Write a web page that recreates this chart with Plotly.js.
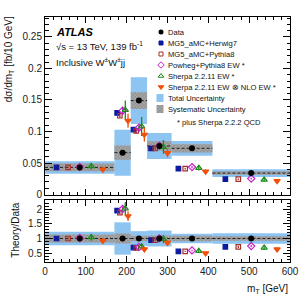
<!DOCTYPE html>
<html><head><meta charset="utf-8">
<script src="https://cdn.plot.ly/plotly-3.0.1.min.js"></script>
<style>html,body{margin:0;padding:0;background:#fff}#c{width:307px;height:307px}</style>
</head><body><div id="c"></div>
<script>
// ---- data ----
const binLo = [0, 170, 210, 250, 310, 410];
const binHi = [170, 210, 250, 310, 410, 600];
const dataVal = [0.043, 0.0664, 0.149, 0.077, 0.0733, 0.034];
const totRel = [0.23, 0.55, 0.25, 0.27, 0.16, 0.18];
const sysRel = [0.14, 0.17, 0.09, 0.10, 0.09, 0.08];

const mgHerwig = [0.043, 0.1295, 0.103, 0.073, 0.041, 0.0244];
const mgHerwigErr = [0.0015, 0.004, 0.004, 0.003, 0.0015, 0.0012];
const mgPythia = [0.043, 0.125, 0.101, 0.073, 0.041, 0.0243];
const mgPythiaErr = [0.0015, 0.004, 0.004, 0.003, 0.0015, 0.0012];
const powheg = [0.0438, 0.133, 0.106, 0.0775, 0.0435, 0.0252];
const powhegErr = [0.0018, 0.005, 0.004, 0.003, 0.0018, 0.0013];
const sherpa = [0.0447, 0.134, 0.108, 0.0755, 0.042, 0.0233];
const sherpaErr = [0.005, 0.015, 0.015, 0.011, 0.004, 0.0025];
const sherpaNLO = [0.0398, 0.117, 0.095, 0.066, 0.0365, 0.0215];
const sherpaNLOErr = [0.004, 0.011, 0.011, 0.007, 0.003, 0.002];

const topTickVals = [0, 0.05, 0.1, 0.15, 0.2, 0.25];
const topTickText = ['0', '0.05', '0.1', '0.15', '0.2', '0.25'];
const ratioTickVals = [0.5, 1, 1.5, 2];
const ratioTickText = ['0.5', '1', '1.5', '2'];

const legendLabels = ['Data', 'MG5_aMC+Herwig7', 'MG5_aMC+Pythia8', 'Powheg+Pythia8 EW *',
  'Sherpa 2.2.11 EW *', 'Sherpa 2.2.11 EW \u2297 NLO EW *', 'Total Uncertainty', 'Systematic Uncertainty'];

// ---- styles ----
const FONT = 'Liberation Sans, Arial, Helvetica, sans-serif';
const theory = [
  {v: mgHerwig, e: mgHerwigErr, color: '#0b1a9e', symbol: 'square', size: 4.5},
  {v: mgPythia, e: mgPythiaErr, color: '#a3302d', symbol: 'square-open', size: 4.5},
  {v: powheg, e: powhegErr, color: '#c81ec8', symbol: 'diamond-open', size: 5.5},
  {v: sherpa, e: sherpaErr, color: '#1a8c1a', symbol: 'triangle-up-open', size: 5.5},
  {v: sherpaNLO, e: sherpaNLOErr, color: '#f0500a', symbol: 'triangle-down', size: 5.5}
];
const TOT = '#8dc4f2';
const SYS = '#9a9a9a';
const sysPattern = {shape: 'x', fgcolor: '#6a6a6a', bgcolor: '#a9a9a9', size: 2.5, solidity: 0.25};

const centers = binLo.map((l, i) => (l + binHi[i]) / 2);
const widths = binLo.map((l, i) => binHi[i] - l);

const traces = [];
function panel(xa, ya, vals, isRatio) {
  traces.push({type: 'bar', xaxis: xa, yaxis: ya, x: centers, width: widths,
    base: vals.map((v, i) => v - v * totRel[i]), y: vals.map((v, i) => 2 * v * totRel[i]),
    marker: {color: TOT, line: {width: 0}}, hoverinfo: 'skip'});
  traces.push({type: 'bar', xaxis: xa, yaxis: ya, x: centers, width: widths,
    base: vals.map((v, i) => v - v * sysRel[i]), y: vals.map((v, i) => 2 * v * sysRel[i]),
    marker: {color: SYS, pattern: sysPattern, line: {width: 0}}, hoverinfo: 'skip'});
  const lx = [], ly = [];
  binLo.forEach((l, i) => { lx.push(l, binHi[i], null); ly.push(vals[i], vals[i], null); });
  traces.push({type: 'scatter', mode: 'lines', xaxis: xa, yaxis: ya, x: lx, y: ly,
    line: {color: '#222', width: 1, dash: '3px,2px'}, hoverinfo: 'skip'});
  theory.forEach((t, k) => {
    const xs = binLo.map((l, i) => l + widths[i] * (k + 1) / 6);
    const ys = t.v.map((v, i) => isRatio ? v / dataVal[i] : v);
    const es = t.e.map((e, i) => isRatio ? e / dataVal[i] : e);
    traces.push({type: 'scatter', mode: 'markers', xaxis: xa, yaxis: ya, x: xs, y: ys,
      marker: {color: t.color, symbol: t.symbol, size: t.size, line: {color: t.color, width: 1.2}},
      error_y: {type: 'data', array: es, color: t.color, thickness: 1.3, width: 0}});
  });
  traces.push({type: 'scatter', mode: 'markers', xaxis: xa, yaxis: ya, x: centers, y: vals,
    marker: {color: 'black', size: 6}});
}
panel('x', 'y', dataVal, false);
panel('x2', 'y2', dataVal.map(() => 1), true);

// ---- legend (overlay axes in pixel units) ----
const legX = 161, legTextX = 166, legY0 = 32, legDY = 11;
const rowY = legendLabels.map((_, i) => legY0 + i * legDY);
traces.push({type: 'scatter', mode: 'markers', xaxis: 'x3', yaxis: 'y3', x: [legX], y: [rowY[0]],
  marker: {color: 'black', size: 5}, hoverinfo: 'skip'});
theory.forEach((t, k) => {
  traces.push({type: 'scatter', mode: 'markers', xaxis: 'x3', yaxis: 'y3', x: [legX], y: [rowY[k + 1]],
    marker: {color: t.color, symbol: t.symbol, size: t.size - 0.5, line: {color: t.color, width: 1}}, hoverinfo: 'skip'});
});
traces.push({type: 'bar', xaxis: 'x3', yaxis: 'y3', x: [legX - 1], width: [7], base: [rowY[6] - 4], y: [8],
  marker: {color: TOT, line: {width: 0}}, hoverinfo: 'skip'});
traces.push({type: 'bar', xaxis: 'x3', yaxis: 'y3', x: [legX - 1], width: [7], base: [rowY[7] - 4], y: [8],
  marker: {color: SYS, pattern: sysPattern, line: {width: 0}}, hoverinfo: 'skip'});

const annotations = legendLabels.map((s, i) => ({xref: 'x3', yref: 'y3', x: legTextX, y: rowY[i],
  text: s, showarrow: false, xanchor: 'left', yanchor: 'middle', font: {family: FONT, size: 7.6, color: '#111'}}));
annotations.push(
  {xref: 'x3', yref: 'y3', x: 175, y: 122.5, text: '* plus Sherpa 2.2.2 QCD', showarrow: false,
    xanchor: 'left', yanchor: 'middle', font: {family: FONT, size: 7.6, color: '#111'}},
  {xref: 'x3', yref: 'y3', x: 54, y: 31.5, text: '<b><i>ATLAS</i></b>', showarrow: false,
    xanchor: 'left', yanchor: 'middle', font: {family: FONT, size: 11, color: '#000'}},
  {xref: 'x3', yref: 'y3', x: 54, y: 46, text: '\u221As = 13 TeV, 139 fb<sup>-1</sup>', showarrow: false,
    xanchor: 'left', yanchor: 'middle', font: {family: FONT, size: 9.5, color: '#111'}},
  {xref: 'x3', yref: 'y3', x: 54, y: 62, text: 'Inclusive W<sup>\u00b1</sup>W<sup>\u00b1</sup>jj', showarrow: false,
    xanchor: 'left', yanchor: 'middle', font: {family: FONT, size: 9.5, color: '#111'}},
  {xref: 'paper', yref: 'paper', x: -0.148, y: 1.01, text: 'd\u03c3/dm<sub>T</sub> [fb/10 GeV]', textangle: -90,
    showarrow: false, xanchor: 'center', yanchor: 'top', font: {family: FONT, size: 10, color: '#111'}},
  {xref: 'paper', yref: 'paper', x: -0.118, y: 0.128, text: 'Theory/Data', textangle: -90,
    showarrow: false, xanchor: 'center', yanchor: 'middle', font: {family: FONT, size: 10, color: '#111'}},
  {xref: 'paper', yref: 'paper', x: 1.0, y: -0.11, text: 'm<sub>T</sub> [GeV]',
    showarrow: false, xanchor: 'right', yanchor: 'middle', font: {family: FONT, size: 10, color: '#111'}}
);

const axBase = {showline: true, linecolor: 'black', linewidth: 1, mirror: 'allticks', ticks: 'inside',
  tickcolor: 'black', showgrid: false, zeroline: false, tickfont: {family: FONT, size: 10, color: '#222'}};
const layout = {
  width: 307, height: 307, margin: {l: 45, r: 17, t: 17, b: 45},
  paper_bgcolor: 'white', plot_bgcolor: 'white', showlegend: false, barmode: 'overlay',
  font: {family: FONT},
  xaxis: Object.assign({}, axBase, {domain: [0, 1], range: [0, 600], anchor: 'y', showticklabels: false,
    dtick: 100, ticklen: 6, minor: {dtick: 20, ticklen: 3, ticks: 'inside', tickcolor: 'black'}}),
  yaxis: Object.assign({}, axBase, {domain: [0.2755, 1], range: [0, 0.2817], anchor: 'x',
    tickmode: 'array', tickvals: topTickVals, ticktext: topTickText, ticklen: 7,
    minor: {dtick: 0.01, ticklen: 3.5, ticks: 'inside', tickcolor: 'black'}}),
  xaxis2: Object.assign({}, axBase, {domain: [0, 1], range: [0, 600], anchor: 'y2',
    dtick: 100, ticklen: 6, minor: {dtick: 20, ticklen: 3, ticks: 'inside', tickcolor: 'black'}}),
  yaxis2: Object.assign({}, axBase, {domain: [0, 0.253], range: [0.2, 2.31], anchor: 'x2',
    tickmode: 'array', tickvals: ratioTickVals, ticktext: ratioTickText, ticklen: 7,
    minor: {dtick: 0.1, ticklen: 3.5, ticks: 'inside', tickcolor: 'black'}}),
  xaxis3: {overlaying: 'x', range: [45, 290], visible: false, anchor: 'y3', fixedrange: true},
  yaxis3: {overlaying: 'y', range: [194.5, 17], visible: false, anchor: 'x3', fixedrange: true},
  annotations: annotations
};
Plotly.newPlot('c', traces, layout, {staticPlot: true, displayModeBar: false});
</script></body></html>
